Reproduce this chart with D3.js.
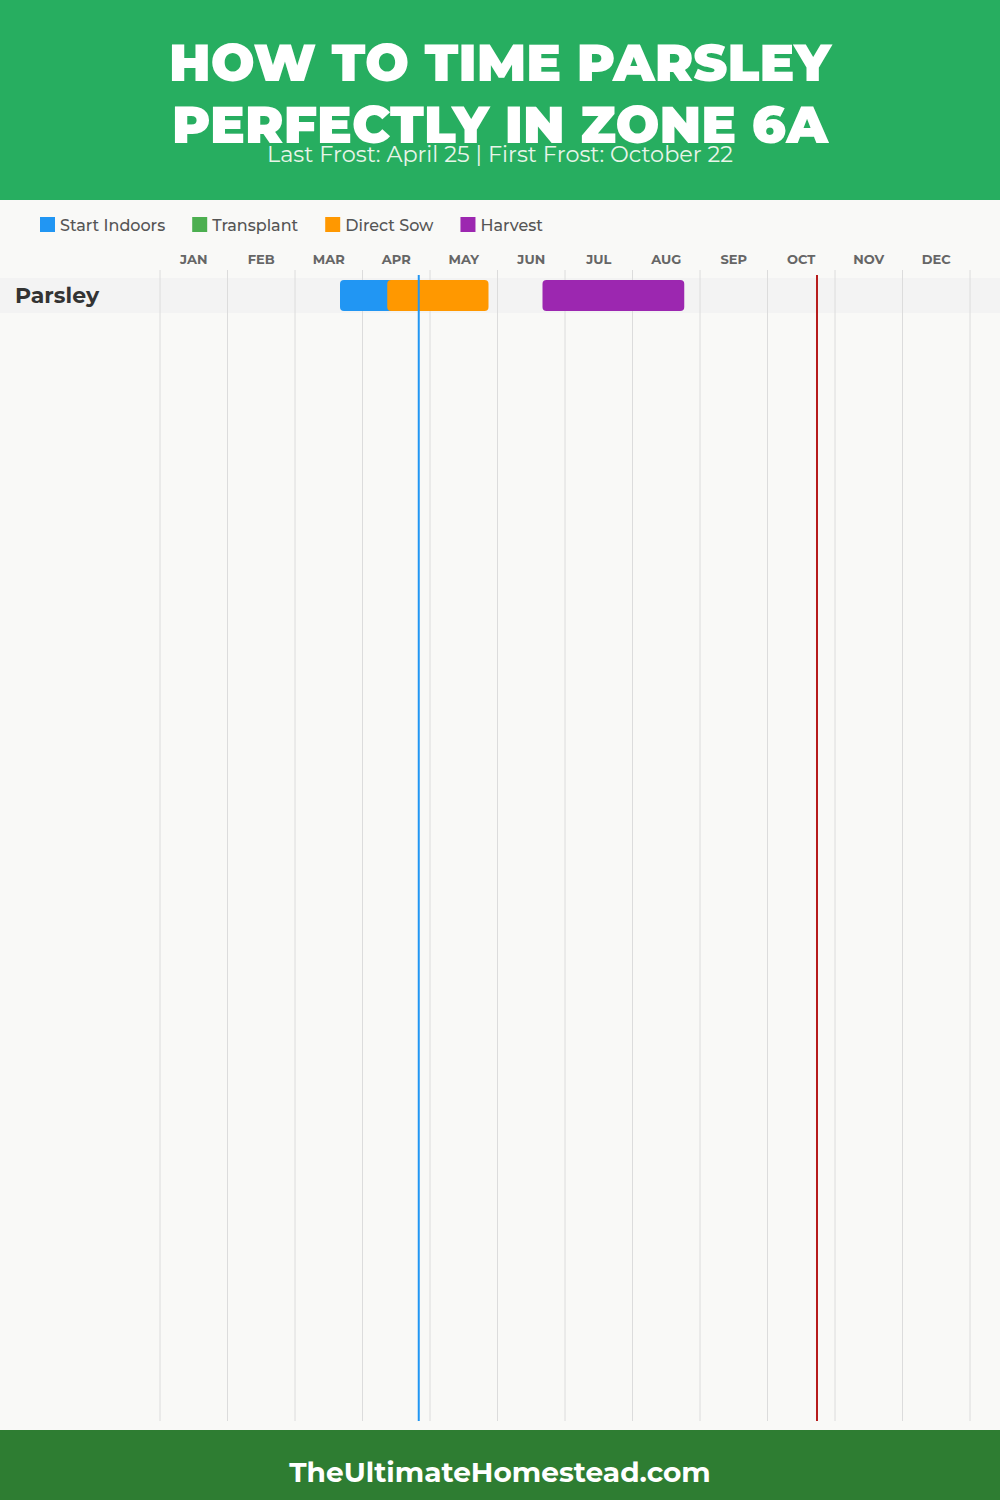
<!DOCTYPE html>
<html><head><meta charset="utf-8">
<script src="https://cdn.jsdelivr.net/npm/d3@7"></script>
<style>
body{margin:0;padding:0;background:#f9f9f7;}
svg{display:block;}
</style></head>
<body>
<script>
const titleLines = ["HOW TO TIME PARSLEY", "PERFECTLY IN ZONE 6A"];
const subtitle = "Last Frost: April 25 | First Frost: October 22";
const footerText = "TheUltimateHomestead.com";
const months = ["JAN","FEB","MAR","APR","MAY","JUN","JUL","AUG","SEP","OCT","NOV","DEC"];
const legendNames = ["Start Indoors","Transplant","Direct Sow","Harvest"];
const legendColors = ["#2196F3","#4CAF50","#FF9800","#9C27B0"];
const crops = ["Parsley"];
const taskCrop  = ["Parsley","Parsley","Parsley"];
const taskPhase = ["Start Indoors","Direct Sow","Harvest"];
const taskStart = [[2,20],[3,11],[5,20]];
const taskEnd   = [[3,20],[4,26],[7,23]];
const lastFrost = [3,25];
const firstFrost = [9,22];

const W = 1000, H = 1500;
const svg = d3.select("body").append("svg").attr("width", W).attr("height", H);
const font = "Montserrat, Inter, Lato, 'Open Sans', sans-serif";

svg.append("rect").attr("width", W).attr("height", H).attr("fill", "#f9f9f7");
svg.append("rect").attr("width", W).attr("height", 200).attr("fill", "#27AE60");
svg.selectAll("text.title").data(titleLines).enter().append("text")
  .attr("class","title")
  .attr("x", 500).attr("y", (d,i) => 81 + i*62)
  .attr("text-anchor","middle")
  .attr("font-family", font).attr("font-weight", 900).attr("font-size", 52)
  .attr("fill","#fff")
  .attr("textLength", (d,i)=> i===0 ? 662 : 656).attr("lengthAdjust","spacingAndGlyphs")
  .text(d=>d);
svg.append("text").attr("x",500).attr("y",162).attr("text-anchor","middle")
  .attr("font-family", font).attr("font-weight", 400).attr("font-size", 22)
  .attr("fill","#e8f5e9").attr("textLength",466).attr("lengthAdjust","spacingAndGlyphs")
  .text(subtitle);

const x = d3.scaleLinear().domain([0,12]).range([160,970]);
const pos = md => x(md[0] + md[1]/30);
const y = d3.scaleBand().domain(crops).range([278, 313]);

const lg = svg.append("g");
let lx = 40;
legendNames.forEach((n,i)=>{
  lg.append("rect").attr("x", lx).attr("y", 217).attr("width", 15).attr("height", 15).attr("fill", legendColors[i]);
  const t = lg.append("text").attr("x", lx+20).attr("y", 231)
    .attr("font-family", font).attr("font-weight", 500).attr("font-size", 16).attr("fill","#555").text(n);
  lx += 20 + t.node().getComputedTextLength() + 27;
});

svg.selectAll("rect.band").data(crops).enter().append("rect")
  .attr("x",0).attr("width",W).attr("y", d=>y(d)).attr("height", y.bandwidth())
  .attr("fill","#f3f3f3");

svg.selectAll("line.grid").data(d3.range(13)).enter().append("line")
  .attr("x1", d=>x(d)).attr("x2", d=>x(d)).attr("y1", 270).attr("y2", 1421)
  .attr("stroke","#dcdcdc").attr("stroke-width",1);

svg.selectAll("text.month").data(months).enter().append("text")
  .attr("x",(d,i)=>x(i+0.5)).attr("y",264).attr("text-anchor","middle")
  .attr("font-family", font).attr("font-weight",700).attr("font-size",13)
  .attr("fill","#666").text(d=>d);

svg.selectAll("text.crop").data(crops).enter().append("text")
  .attr("x",15).attr("y", d=>y(d)+y.bandwidth()/2+7)
  .attr("font-family", font).attr("font-weight",700).attr("font-size",22)
  .attr("fill","#333").text(d=>d);

const colorOf = d3.scaleOrdinal().domain(legendNames).range(legendColors);
const tasks = taskCrop.map((c,i)=>({crop:c, phase:taskPhase[i], s:taskStart[i], e:taskEnd[i]}));
svg.selectAll("rect.bar").data(tasks).enter().append("rect")
  .attr("x", d=>pos(d.s)).attr("width", d=>pos(d.e)-pos(d.s))
  .attr("y", d=>y(d.crop)+2).attr("height", y.bandwidth()-4)
  .attr("rx",4).attr("fill", d=>colorOf(d.phase));

svg.append("line").attr("x1",pos(lastFrost)).attr("x2",pos(lastFrost)).attr("y1",275).attr("y2",1421)
  .attr("stroke","#2196F3").attr("stroke-width",2);
svg.append("line").attr("x1",pos(firstFrost)).attr("x2",pos(firstFrost)).attr("y1",275).attr("y2",1421)
  .attr("stroke","#B71C1C").attr("stroke-width",2);

svg.append("rect").attr("y",1430).attr("width",W).attr("height",70).attr("fill","#2E7D32");
svg.append("text").attr("x",500).attr("y",1482).attr("text-anchor","middle")
  .attr("font-family", font).attr("font-weight",700).attr("font-size",28)
  .attr("fill","#fff").text(footerText);
</script>
</body></html>
